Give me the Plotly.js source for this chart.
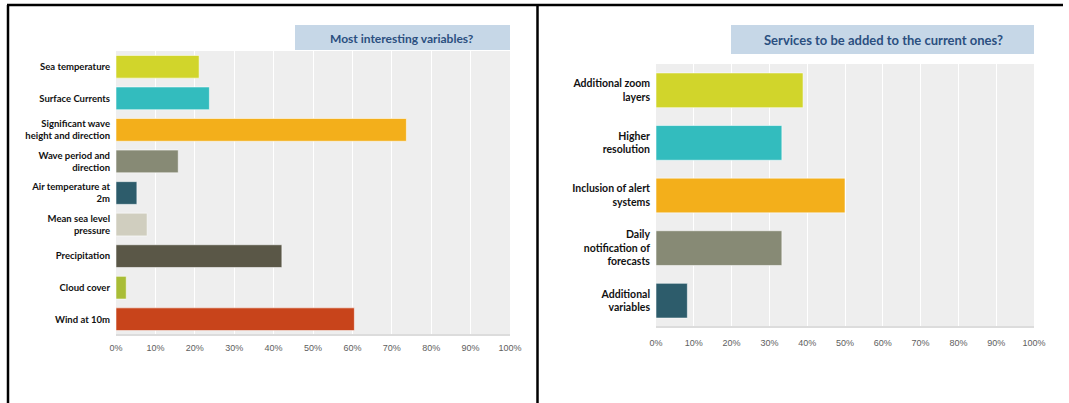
<!DOCTYPE html>
<html>
<head>
<meta charset="utf-8">
<script src="https://cdn.plot.ly/plotly-3.0.1.min.js"></script>
<style>
html,body{margin:0;padding:0;background:#fff;}
#chart{width:1069px;height:403px;}
</style>
</head>
<body>
<div id="chart"></div>
<script>
// ---- Data ----
const leftTitle = "Most interesting variables?";
const leftCategories = [
  "Sea temperature",
  "Surface Currents",
  "Significant wave<br>height and direction",
  "Wave period and<br>direction",
  "Air temperature at<br>2m",
  "Mean sea level<br>pressure",
  "Precipitation",
  "Cloud cover",
  "Wind at 10m"
];
const leftValues = [21.1, 23.7, 73.7, 15.8, 5.3, 7.9, 42.1, 2.6, 60.5];
const leftColors = ["#d1d52b", "#33bcbe", "#f3af1b", "#878a75", "#2d5c6b", "#d0cebf", "#5a5747", "#a9bd36", "#c8441b"];

const rightTitle = "Services to be added to the current ones?";
const rightCategories = [
  "Additional zoom<br>layers",
  "Higher<br>resolution",
  "Inclusion of alert<br>systems",
  "Daily<br>notification of<br>forecasts",
  "Additional<br>variables"
];
const rightValues = [38.9, 33.3, 50.0, 33.3, 8.3];
const rightColors = ["#d1d52b", "#33bcbe", "#f3af1b", "#878a75", "#2d5c6b"];

const tickVals = [0, 10, 20, 30, 40, 50, 60, 70, 80, 90, 100];
const tickText = ["0%", "10%", "20%", "30%", "40%", "50%", "60%", "70%", "80%", "90%", "100%"];

// ---- Layout helpers ----
const W = 1069, H = 403;
const px = x => x / W;
const py = y => 1 - y / H;

const labelFontL = {family: "Lato, 'Open Sans', sans-serif", size: 9.5, color: "#111", weight: 700};
const labelFontR = {family: "Lato, 'Open Sans', sans-serif", size: 10.5, color: "#111", weight: 700};
const tickFont = {family: "'Liberation Sans', Arial, sans-serif", size: 9, color: "#5e5e5e"};
const titleFont = {family: "Lato, 'Open Sans', sans-serif", size: 12, color: "#2b4f80", weight: 700};

const traces = [
  {
    type: "bar", orientation: "h",
    x: leftValues, y: leftCategories,
    xaxis: "x", yaxis: "y",
    width: 0.72,
    marker: {color: leftColors, line: {color: "rgba(255,255,255,0.55)", width: 1}},
    hoverinfo: "skip"
  },
  {
    type: "bar", orientation: "h",
    x: rightValues, y: rightCategories,
    xaxis: "x2", yaxis: "y2",
    width: 0.66,
    marker: {color: rightColors, line: {color: "rgba(255,255,255,0.55)", width: 1}},
    hoverinfo: "skip"
  }
];

function xAxis(domain, anchor, standoff) {
  return {
    domain: domain, anchor: anchor,
    range: [0, 100], fixedrange: true,
    tickvals: tickVals, ticktext: tickText,
    tickfont: tickFont,
    showgrid: true, gridcolor: "#ffffff", gridwidth: 1,
    zeroline: false, showline: false, ticks: "",
    ticklabelstandoff: standoff
  };
}
function yAxis(domain, anchor, font) {
  return {
    domain: domain, anchor: anchor,
    type: "category", autorange: "reversed", fixedrange: true,
    tickfont: font, ticks: "", showgrid: false,
    zeroline: false, showline: false, ticklabelstandoff: 5
  };
}

const layout = {
  width: W, height: H,
  margin: {l: 0, r: 0, t: 0, b: 0},
  paper_bgcolor: "#ffffff",
  plot_bgcolor: "#eeeeee",
  showlegend: false,
  xaxis: xAxis([px(116), px(510)], "y", 6),
  yaxis: yAxis([py(335), py(51)], "x", labelFontL),
  xaxis2: xAxis([px(656), px(1034)], "y2", 9),
  yaxis2: yAxis([py(327), py(64)], "x2", labelFontR),
  shapes: [
    // frame lines
    {type: "line", xref: "paper", yref: "paper", x0: px(7), x1: px(1063), y0: py(5), y1: py(5), line: {color: "#000", width: 2.5}},
    {type: "line", xref: "paper", yref: "paper", x0: px(8), x1: px(8), y0: py(5), y1: py(403), line: {color: "#000", width: 2.5}},
    {type: "line", xref: "paper", yref: "paper", x0: px(537.5), x1: px(537.5), y0: py(5), y1: py(403), line: {color: "#000", width: 2.5}},
    // title boxes
    {type: "rect", xref: "paper", yref: "paper", x0: px(295), x1: px(510), y0: py(50), y1: py(25), fillcolor: "#c6d7e7", line: {width: 0}, layer: "below"},
    {type: "rect", xref: "paper", yref: "paper", x0: px(731), x1: px(1034), y0: py(54), y1: py(25), fillcolor: "#c6d7e7", line: {width: 0}, layer: "below"},
    // bottom baselines
    {type: "line", xref: "paper", yref: "paper", x0: px(116), x1: px(510), y0: py(335), y1: py(335), line: {color: "#dcdcdc", width: 2}},
    {type: "line", xref: "paper", yref: "paper", x0: px(656), x1: px(1034), y0: py(327), y1: py(327), line: {color: "#dcdcdc", width: 2}}
  ],
  annotations: [
    {xref: "paper", yref: "paper", x: px(402), y: py(38), text: leftTitle, showarrow: false, font: titleFont, xanchor: "center", yanchor: "middle"},
    {xref: "paper", yref: "paper", x: px(883), y: py(40), text: rightTitle, showarrow: false, font: Object.assign({}, titleFont, {size: 13}), xanchor: "center", yanchor: "middle"}
  ]
};

Plotly.newPlot("chart", traces, layout, {displayModeBar: false, staticPlot: true});
</script>
</body>
</html>
